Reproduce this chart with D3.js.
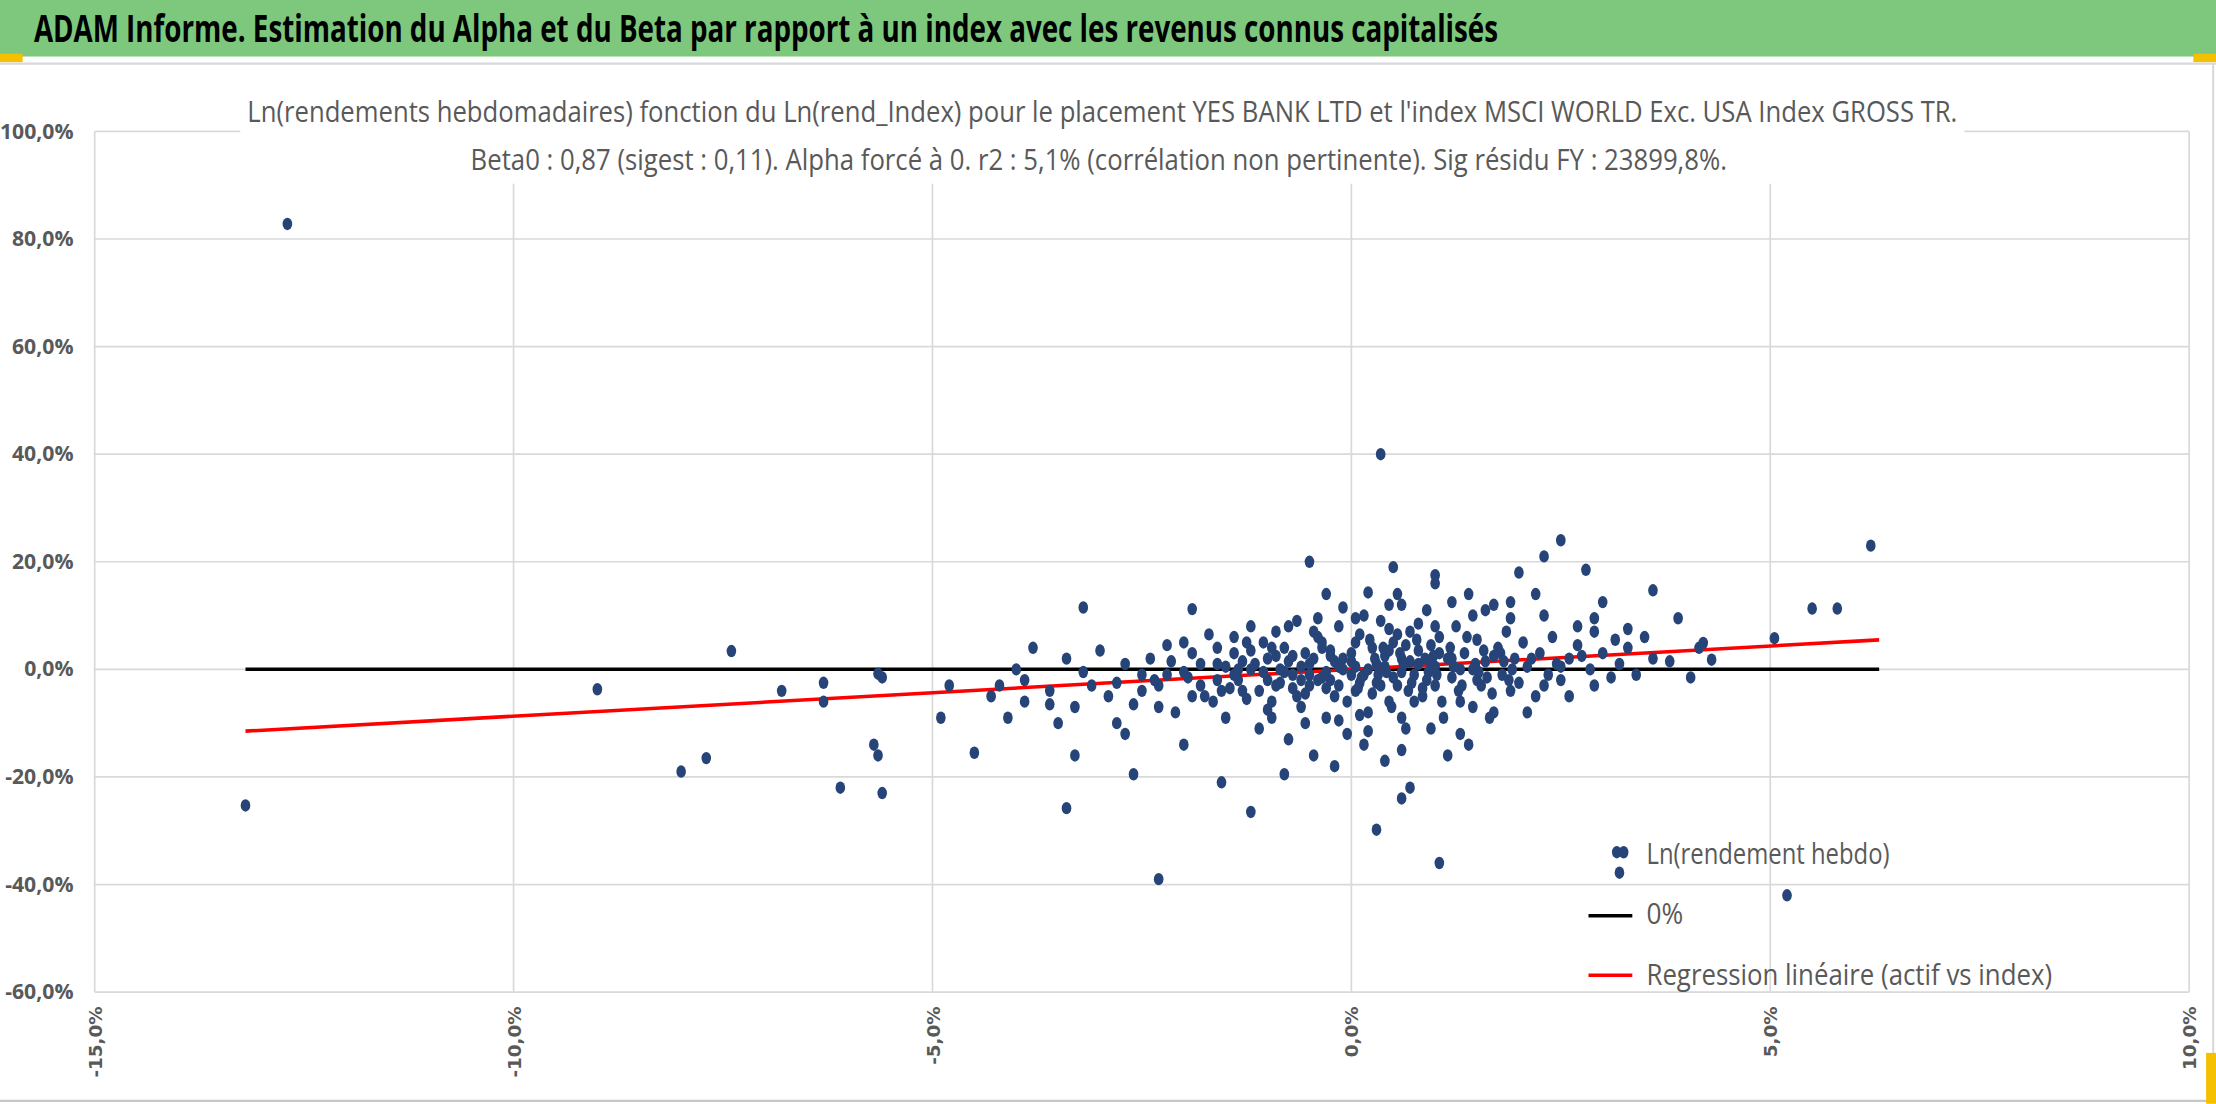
<!DOCTYPE html>
<html><head><meta charset="utf-8">
<script src="https://cdn.jsdelivr.net/npm/d3@7"></script>
<style>
body{margin:0;background:#fff;font-family:"Open Sans",sans-serif;}
</style></head><body>
<div id="chart"></div>
<script>
const W = 2216, H = 1104;
const title = "ADAM Informe. Estimation du Alpha et du Beta par rapport à un index avec les revenus connus capitalisés";
const subtitle1 = "Ln(rendements hebdomadaires) fonction du Ln(rend_Index) pour le placement YES BANK LTD et l'index MSCI WORLD Exc. USA Index GROSS TR.";
const subtitle2 = "Beta0 : 0,87 (sigest : 0,11). Alpha forcé à 0. r2 : 5,1% (corrélation non pertinente). Sig résidu FY : 23899,8%.";
const xTicks = [-15, -10, -5, 0, 5, 10];
const yTicks = [-60, -40, -20, 0, 20, 40, 60, 80, 100];
const beta = 0.87;
const lineRange = [-13.2, 6.3];
const legendLabels = ["Ln(rendement hebdo)", "0%", "Regression linéaire (actif vs index)"];
const legendWidths = [172, 26, 287];

// [rend_Index %, rendement %]
const points = [
[-12.7,82.8],[-13.2,-25.3],[0.35,40],[-9,-3.7],[-7.4,3.4],[-8,-19],[-7.7,-16.5],[-6.8,-4],[-6.3,-2.5],[-6.3,-6],
[-6.1,-22],[-5.7,-14],[-5.65,-16],[-5.6,-23],[-5.6,-1.5],[-5.65,-0.8],[-4.9,-9],[-4.8,-3],[-4.5,-15.5],[-3.4,-25.8],[-2.3,-39],
[0.3,-29.8],[1.05,-36],[5.2,-42],[3.2,-37.8],[3.25,-34],[6.2,23],[5.5,11.3],[5.8,11.3],[5.05,5.8],[4.3,1.8],
[4.2,4.9],[4.15,4],[4.05,-1.5],[3.9,9.5],[3.6,14.7],[2.5,24],[2.3,21],[2.8,18.5],[0.5,19],[-0.5,20],[-3.2,11.5],
[-1.55,-21],[-1.2,-26.5],[-0.8,-19.5],[0.7,-22],[0.6,-24],[-2.6,-19.5],[-3.3,-16],[-1.9,11.2],[1.0,17.5],[2.0,18],
[1.0,16],[0.55,14],[-0.3,14],[-0.1,11.5],[0.2,14.3],[0.15,10],[1.4,14],[1.7,12],[1.9,12.5],[2.3,10],[3.0,12.5],
[3.5,6],[3.3,4],[3.6,2],[3.4,-1],[3.8,1.5],[3.0,3],[2.9,7],[2.7,4.5],[2.6,2],[2.5,-2],[3.1,-1.5],[2.9,-3],
[-4.2,-3],[-4.0,0],[-4.3,-5],[-3.9,-2],[-3.8,4],[-3.6,-6.5],[-3.5,-10],[-3.3,-7],[-3.1,-3],[-3.0,3.5],[-3.2,-0.5],
[-3.4,2],[-2.9,-5],[-2.8,-10],[-2.7,-12],[-2.6,-6.5],[-2.5,-1],[-2.4,2],[-2.3,-3],[-2.2,4.5],[-2.1,-8],[-2.0,-14],
[-1.9,-5],[-1.8,1],[-1.7,6.5],[-1.6,-2],[-1.5,-9],[-1.4,3],[-1.3,-4],[-1.2,8],[-1.1,-11],[-1.0,2],[-0.95,-6],
[-0.9,7],[-0.85,-2.5],[-0.8,4],[-0.75,-13],[-0.7,-1],[-0.65,9],[-0.6,-7],[-0.55,3],[-0.5,-3],[-0.45,-16],[-0.4,6],
[-0.35,-1.5],[-0.3,-9],[-0.25,2.5],[-0.2,-5],[-0.15,8],[-0.1,0],[-0.05,-12],[0,3],[0.05,-4],[0.1,6.5],
[0.15,-1],[0.2,-8],[0.25,4],[0.3,-2.5],[0.35,9],[0.4,0.5],[0.45,-6],[0.5,5],[0.55,-3],[0.6,2],[0.65,-11],
[0.7,7],[0.75,-1],[0.8,3.5],[0.85,-5],[0.9,11],[0.95,1],[1.0,-3],[1.05,6],[1.1,-9],[1.15,2],[1.2,-1.5],
[1.25,8],[1.3,-6],[1.35,3],[1.4,-14],[1.45,0],[1.5,5.5],[1.55,-3],[1.6,1.5],[1.7,-8],[1.75,4],[1.8,-1],
[1.85,7],[1.9,-4],[1.95,2],[2.0,-2.5],[2.05,5],[2.1,0.5],[2.2,-5],[2.25,3],[2.35,-1],[2.4,6],[2.45,1],
[-0.6,0.5],[-0.4,-2],[-0.2,1.5],[0,-1],[0.2,0],[0.4,2.5],[0.6,-0.5],[0.8,1],[1.0,0.5],[1.2,2],[-0.8,-0.5],
[-1.0,-2],[-1.2,0],[-1.4,-1],[-1.6,1],[-1.8,-3],[0.3,1],[0.5,-1.5],[0.7,1.5],[0.9,-2],[-0.3,-0.5],[-0.1,2],
[0.1,-2.5],[-0.5,1],[-0.7,-3.5],[0.45,3.5],[0.65,4.5],[0.85,-3.5],[1.05,3],[-0.15,-3],[-0.35,4],[0.25,-4.5],
[1.3,0],[1.5,-2],[1.7,2.5],[-1.3,1.5],[-1.1,-4],[-0.9,2.5],[0.05,5],[0.35,-3],[0.55,6.5],[0.75,-6],[0.95,4.5],
[-2.2,-1],[-1.9,3],[-1.65,-6],[-2.5,-4],[-2.7,1],[-2.0,-0.5],[-1.45,-3.5],[-1.25,5],[-0.95,-9],[-0.55,-10],
[0.15,-14],[0.4,-17],[0.6,-15],[0.95,-11],[1.3,-12],[1.65,-9],[2.1,-8],[-0.2,-18],[0.2,-11.5],[1.15,-16],
[1.6,11],[1.2,12.5],[0.8,8.5],[0.45,12],[-0.75,8],[-1.4,6],[-2.0,5],[-2.8,-2.5],[-3.6,-4],[-4.1,-9],[-3.9,-6],
[2.7,8],[2.9,9.5],[3.3,7.5],[1.9,9.5],[2.2,14],[1.45,10],[0.6,12],[0.05,9.5],[-0.45,7],[-1.05,5],
// dense core
[-1.5,0.5],[-1.35,-2],[-1.2,3.5],[-1.05,-0.5],[-0.9,-3],[-0.75,1.5],[-0.6,-2],[-0.45,2],[-0.3,-3.5],[-0.15,0.5],
[0,1.5],[0.12,-1.5],[0.28,2],[0.42,-0.5],[0.58,3],[0.72,-2.5],[0.88,2],[1.02,-1],[1.18,4],[1.32,-3],
[1.48,1],[1.62,-1.5],[1.78,3],[1.92,0],[-1.55,-4],[-1.25,-5.5],[-0.95,4],[-0.65,-5],[-0.35,5],[-0.05,-6],
[0.22,5.5],[0.48,-7],[0.78,5.5],[1.08,-6],[1.38,6],[1.68,-4.5],[-0.7,2.5],[-0.5,-1],[-0.25,-2],[0.05,0.5],
[0.32,-1],[0.62,1],[0.92,-0.5],[1.22,0.5],[1.52,-0.5],[1.82,1.5],[-1.15,1],[-0.85,0],[-0.55,-4.5],[-0.25,3.5],
[0.08,-3.5],[0.38,4],[0.68,-4],[0.98,2.5],[1.28,-4],[1.58,3.5],[1.88,-2],[2.15,2],[2.3,-3],[2.5,0.5],
[-2.35,-2],[-2.15,1.5],[-1.95,-1.5],[-1.75,-5],[-1.6,4],[-1.35,0],[-0.4,9.5],[0.1,-8.5],[0.6,-9],[1.0,8],
[-0.15,-9.5],[0.45,7.5],[1.45,-7],[-1.0,-7.5],[-2.3,-7],[2.6,-5],[2.75,2.5],[3.2,1],[3.15,5.5],[2.85,0]
];

const svg = d3.select('#chart').append('svg').attr('width', W).attr('height', H);
// layout was measured at 1568 px wide; scale up to the full window
const root = svg.append('g').attr('transform', `scale(${W / 1568})`);

// header band
root.append('rect').attr('x', 0).attr('y', 0).attr('width', 1568).attr('height', 40).attr('fill', '#7dc87d');
root.append('rect').attr('x', 0).attr('y', 38).attr('width', 16).attr('height', 6).attr('fill', '#f5c000');
root.append('rect').attr('x', 1552).attr('y', 38).attr('width', 16).attr('height', 6).attr('fill', '#f5c000');
root.append('line').attr('x1', 0).attr('x2', 1568).attr('y1', 45).attr('y2', 45).attr('stroke', '#d9d9d9').attr('stroke-width', 1.5);
root.append('text').attr('x', 24).attr('y', 30).attr('font-size', 26).attr('font-weight', 'bold')
  .attr('textLength', 1036).attr('lengthAdjust', 'spacingAndGlyphs')
  .attr('fill', '#000').text(title);

const x = d3.scaleLinear().domain([-15, 10]).range([67, 1549]);
const y = d3.scaleLinear().domain([-60, 100]).range([702, 93]);

// grid
root.append('g').selectAll('line').data(yTicks).enter().append('line')
  .attr('x1', x(-15)).attr('x2', x(10)).attr('y1', d => y(d)).attr('y2', d => y(d))
  .attr('stroke', '#d9d9d9').attr('stroke-width', 1.2);
root.append('g').selectAll('line').data(xTicks).enter().append('line')
  .attr('x1', d => x(d)).attr('x2', d => x(d)).attr('y1', y(100)).attr('y2', y(-60))
  .attr('stroke', '#d9d9d9').attr('stroke-width', 1.2);

// subtitle
const sub = root.append('g');
sub.append('rect').attr('x', 170).attr('y', 62).attr('width', 1220).attr('height', 68).attr('fill', '#fff');
sub.append('text').attr('x', 175).attr('y', 86).attr('font-size', 20)
  .attr('textLength', 1210).attr('lengthAdjust', 'spacingAndGlyphs')
  .attr('fill', '#595959').text(subtitle1);
sub.append('text').attr('x', 333).attr('y', 120).attr('font-size', 20)
  .attr('textLength', 889).attr('lengthAdjust', 'spacingAndGlyphs')
  .attr('fill', '#595959').text(subtitle2);

// tick labels
const fmt = d => d3.format('.1f')(d).replace('.', ',').replace('−', '-') + '%';
root.append('g').selectAll('text').data(yTicks).enter().append('text')
  .attr('x', 52).attr('y', d => y(d) + 5).attr('text-anchor', 'end')
  .attr('font-size', 15).attr('font-weight', 'bold').attr('fill', '#595959').text(fmt);
root.append('g').selectAll('text').data(xTicks).enter().append('text')
  .attr('transform', d => `translate(${x(d) + 5}, 712) rotate(-90)`).attr('text-anchor', 'end')
  .attr('font-family', 'DejaVu Sans').attr('font-size', 13).attr('font-weight', 'bold')
  .attr('fill', '#595959').text(fmt);

// lines
root.append('line').attr('x1', x(lineRange[0])).attr('x2', x(lineRange[1]))
  .attr('y1', y(0)).attr('y2', y(0)).attr('stroke', '#000').attr('stroke-width', 2.5);
root.append('line').attr('x1', x(lineRange[0])).attr('x2', x(lineRange[1]))
  .attr('y1', y(beta * lineRange[0])).attr('y2', y(beta * lineRange[1])).attr('stroke', '#ff0000').attr('stroke-width', 2.5);

// points
root.append('g').selectAll('ellipse').data(points).enter().append('ellipse')
  .attr('cx', d => x(d[0])).attr('cy', d => y(d[1])).attr('rx', 3.4).attr('ry', 4.4).attr('fill', '#264478');

// legend
const lg = root.append('g');
lg.append('ellipse').attr('cx', 1144).attr('cy', 603).attr('rx', 3.4).attr('ry', 4.4).attr('fill', '#264478');
lg.append('line').attr('x1', 1124).attr('x2', 1155).attr('y1', 648).attr('y2', 648).attr('stroke', '#000').attr('stroke-width', 2.5);
lg.append('line').attr('x1', 1124).attr('x2', 1155).attr('y1', 690).attr('y2', 690).attr('stroke', '#ff0000').attr('stroke-width', 2.5);
lg.selectAll('text.l').data(legendLabels).enter().append('text')
  .attr('x', 1165).attr('y', (d, i) => 611 + i * 43).attr('font-size', 21)
  .attr('textLength', (d, i) => legendWidths[i]).attr('lengthAdjust', 'spacingAndGlyphs')
  .attr('fill', '#595959').text(d => d);

// frame
root.append('line').attr('x1', 0).attr('x2', 1568).attr('y1', 779).attr('y2', 779).attr('stroke', '#c8c8c8').attr('stroke-width', 1.5);
root.append('line').attr('x1', 1566).attr('x2', 1566).attr('y1', 45).attr('y2', 781).attr('stroke', '#d9d9d9').attr('stroke-width', 1.5);
root.append('rect').attr('x', 1561).attr('y', 745).attr('width', 7).attr('height', 36).attr('fill', '#f5c000');
</script></body></html>
